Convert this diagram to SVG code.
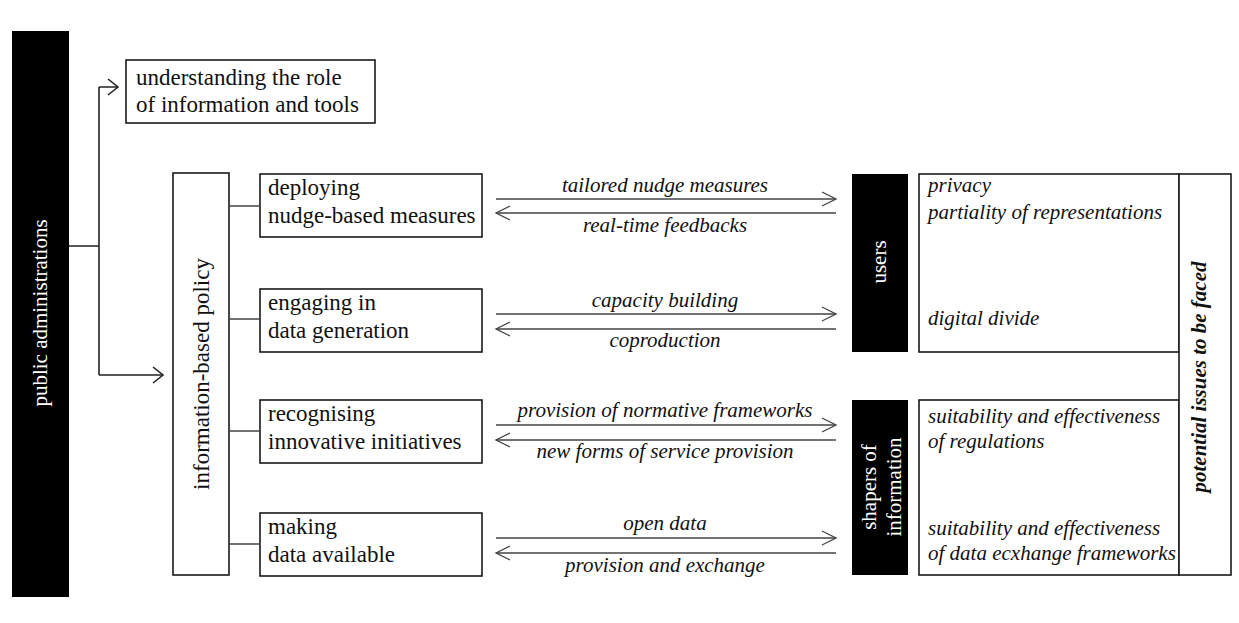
<svg xmlns="http://www.w3.org/2000/svg" width="1239" height="623" viewBox="0 0 1239 623">
<style>
.box{fill:#fff;stroke:#1a1a1a;stroke-width:1.6}
.blk{fill:#000}
text{font-family:'Liberation Serif',serif}
.t{font-size:23px;fill:#111}
.w{font-size:21px;fill:#fff}
.i{font-size:21px;font-style:italic;fill:#111}
.ic{font-size:21px;font-style:italic;fill:#111;text-anchor:middle}
.ln{fill:none;stroke:#222;stroke-width:1.6}
.ln2{fill:none;stroke:#444;stroke-width:1.3}
</style>
<rect width="1239" height="623" fill="#fff"/>
<g id="public-administrations">
<rect class="blk" x="12" y="31" width="57" height="566"/>
<text class="w" transform="translate(47,313) rotate(-90)" text-anchor="middle">public administrations</text>
</g>
<g id="understanding">
<rect class="box" x="126" y="60" width="249" height="63"/>
<text class="t" x="136" y="85">understanding the role</text>
<text class="t" x="136" y="112">of information and tools</text>
</g>
<g id="information-based-policy">
<rect class="box" x="173" y="173" width="56" height="402"/>
<text class="t" transform="translate(209,374) rotate(-90)" text-anchor="middle">information-based policy</text>
</g>
<g id="deploying">
<rect class="box" x="260" y="174" width="222" height="63"/>
<text class="t" x="268" y="195">deploying</text>
<text class="t" x="268" y="223">nudge-based measures</text>
</g>
<g id="engaging">
<rect class="box" x="260" y="289" width="222" height="63"/>
<text class="t" x="268" y="310">engaging in</text>
<text class="t" x="268" y="338">data generation</text>
</g>
<g id="recognising">
<rect class="box" x="260" y="400" width="222" height="63"/>
<text class="t" x="268" y="421">recognising</text>
<text class="t" x="268" y="449">innovative initiatives</text>
</g>
<g id="making">
<rect class="box" x="260" y="513" width="222" height="63"/>
<text class="t" x="268" y="534">making</text>
<text class="t" x="268" y="562">data available</text>
</g>
<g id="users">
<rect class="blk" x="852" y="174" width="56" height="178"/>
<text class="w" transform="translate(886,262) rotate(-90)" text-anchor="middle">users</text>
</g>
<g id="shapers">
<rect class="blk" x="852" y="400" width="56" height="175"/>
<text class="w" transform="translate(876,487) rotate(-90)" text-anchor="middle">shapers of</text>
<text class="w" transform="translate(901,487) rotate(-90)" text-anchor="middle">information</text>
</g>
<g id="users-issues">
<rect class="box" x="919" y="174" width="260" height="178"/>
<text class="i" x="928" y="192">privacy</text>
<text class="i" x="928" y="219">partiality of representations</text>
<text class="i" x="928" y="325">digital divide</text>
</g>
<g id="shapers-issues">
<rect class="box" x="919" y="400" width="260" height="175"/>
<text class="i" x="928" y="423">suitability and effectiveness</text>
<text class="i" x="928" y="448">of regulations</text>
<text class="i" x="928" y="535">suitability and effectiveness</text>
<text class="i" x="928" y="560">of data ecxhange frameworks</text>
</g>
<g id="potential-issues">
<rect class="box" x="1179" y="174" width="52" height="401"/>
<text class="i" transform="translate(1206,377) rotate(-90)" text-anchor="middle" font-weight="bold">potential issues to be faced</text>
</g>
<g id="connectors">
<path class="ln" d="M69,246 H99 M99,87 V375 M99,87 H117 M99,375 H162"/>
<path class="ln" d="M108,79 L118,87 L108,95 M153,367 L163,375 L153,383"/>
<path class="ln2" d="M229,206 H260 M229,319 H260 M229,431 H260 M229,544 H260"/>
<path class="ln2" d="M496,199 H836 M496,213 H836 M496,314 H836 M496,329 H836 M496,425 H836 M496,440 H836 M496,538 H836 M496,553 H836"/>
<path class="ln2" d="M822,192 L836,199 L822,206 M510,206 L496,213 L510,220 M822,307 L836,314 L822,321 M510,322 L496,329 L510,336 M822,418 L836,425 L822,432 M510,433 L496,440 L510,447 M822,531 L836,538 L822,545 M510,546 L496,553 L510,560"/>
<text class="ic" x="665" y="192">tailored nudge measures</text>
<text class="ic" x="665" y="232">real-time feedbacks</text>
<text class="ic" x="665" y="307">capacity building</text>
<text class="ic" x="665" y="347">coproduction</text>
<text class="ic" x="665" y="417">provision of normative frameworks</text>
<text class="ic" x="665" y="458">new forms of service provision</text>
<text class="ic" x="665" y="530">open data</text>
<text class="ic" x="665" y="572">provision and exchange</text>
</g>
</svg>
